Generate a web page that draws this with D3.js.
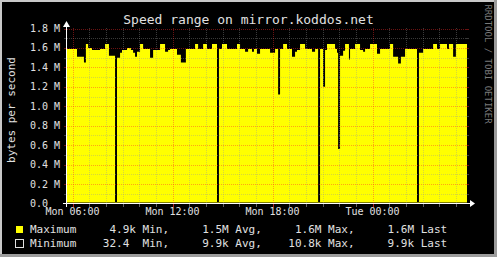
<!DOCTYPE html>
<html>
<head>
<meta charset="utf-8">
<script src="https://cdn.jsdelivr.net/npm/d3@7"></script>
<style>
  html, body { margin: 0; padding: 0; background: #000; }
  svg { display: block; }
  text { font-family: "DejaVu Sans Mono", monospace; fill: #e0e0e0; }
</style>
</head>
<body>
<div id="chart"></div>
<script>
// minutes after Mon 05:40, step values (bytes per second)
const maxMinutes = [0, 36, 61, 68, 76, 90, 119, 137, 151, 173, 180, 191, 198, 216, 230, 238, 245, 252, 263, 274,
  299, 310, 335, 353, 364, 371, 396, 410, 428, 461, 472, 490, 504, 522, 540, 547, 558, 576, 612, 623,
  641, 652, 666, 673, 684, 695, 731, 749, 760, 767, 778, 792, 810, 821, 828, 839, 857, 882, 893, 904,
  911, 922, 929, 936, 965, 972, 976, 983, 994, 1001, 1015, 1019, 1037, 1055, 1066, 1073, 1091, 1116, 1127, 1145,
  1163, 1174, 1192, 1202, 1217, 1260, 1267, 1282, 1318, 1332, 1343, 1368, 1375, 1390, 1400, 1440];
const maxValues = [1.59, 1.51, 1.45, 1.64, 1.60, 1.58, 1.59, 1.64, 1.52, 0.01, 1.50, 1.55, 1.58, 1.60, 1.58, 1.55, 1.51, 1.56, 1.64, 1.59,
  1.50, 1.58, 1.64, 1.56, 1.58, 1.59, 1.53, 1.45, 1.59, 1.64, 1.59, 1.64, 1.59, 1.64, 0.01, 1.59, 1.64, 1.59, 1.64, 1.59,
  1.56, 1.59, 1.56, 1.59, 1.54, 1.59, 1.55, 1.59, 1.12, 1.59, 1.64, 1.59, 1.51, 1.56, 1.58, 1.64, 1.59, 1.56, 1.59, 0.01,
  1.59, 1.20, 1.58, 1.64, 1.59, 1.55, 0.56, 1.52, 1.57, 1.64, 1.48, 1.59, 1.64, 1.58, 1.56, 1.59, 1.64, 1.54, 1.59, 1.59,
  1.64, 1.51, 1.44, 1.51, 1.59, 0.01, 1.55, 1.59, 1.64, 1.59, 1.64, 1.59, 1.64, 1.51, 1.64, 1.64].map(v => v * 1e6);

const minMinutes = [0, 173, 180, 540, 547, 904, 911, 1260, 1267, 1440];
const minValues = [10000, 0, 10200, 0, 9800, 0, 10500, 0, 9900, 9900];

const yTicks = [0, 0.2e6, 0.4e6, 0.6e6, 0.8e6, 1.0e6, 1.2e6, 1.4e6, 1.6e6, 1.8e6];
const xTickLabels = ['Mon 06:00', 'Mon 12:00', 'Mon 18:00', 'Tue 00:00'];
const legendRows = [
  {name: 'Maximum', text: 'Maximum     4.9k Min,     1.5M Avg,     1.6M Max,     1.6M Last'},
  {name: 'Minimum', text: 'Minimum    32.4  Min,     9.9k Avg,    10.8k Max,     9.9k Last'}
];

const W = 497, H = 257;
const start = new Date(2013, 0, 7, 5, 40);
const end = new Date(2013, 0, 8, 5, 40);
const toDate = m => new Date(start.getTime() + m * 60000);

const x = d3.scaleTime().domain([start, end]).range([67, 467]);
const y = d3.scaleLinear().domain([0, 1.8e6]).range([203.5, 28.5]);

const svg = d3.select('#chart').append('svg')
  .attr('width', W).attr('height', H);

// background + frame
svg.append('rect').attr('width', W).attr('height', H).attr('fill', '#000');
svg.append('rect').attr('x', 0).attr('y', 0).attr('width', W).attr('height', 2).attr('fill', '#c8c8c8');
svg.append('rect').attr('x', 0).attr('y', 0).attr('width', 2).attr('height', H).attr('fill', '#c8c8c8');
svg.append('rect').attr('x', 0).attr('y', H - 3).attr('width', W).attr('height', 3).attr('fill', '#9c9c9c');
svg.append('rect').attr('x', W - 3).attr('y', 0).attr('width', 3).attr('height', H).attr('fill', '#9c9c9c');

// title
svg.append('text').attr('x', 248.5).attr('y', 24).attr('text-anchor', 'middle')
  .style('font-size', '13px').text('Speed range on mirror.koddos.net');

// vertical label
svg.append('text').attr('transform', 'translate(15,110) rotate(-90)').attr('text-anchor', 'middle')
  .style('font-size', '11px').text('bytes per second');

// watermark
svg.append('text').attr('transform', 'translate(485,64) rotate(90)').attr('text-anchor', 'middle')
  .style('font-size', '9px').style('fill', '#7a7a7a').text('RRDTOOL / TOBI OETIKER');

// areas
const maxData = maxMinutes.map((m, i) => ({t: toDate(m), v: maxValues[i]}));
const minData = minMinutes.map((m, i) => ({t: toDate(m), v: minValues[i]}));

const area = d3.area().curve(d3.curveStepAfter)
  .x(d => x(d.t)).y0(y(0)).y1(d => y(d.v));

svg.append('path').datum(maxData).attr('fill', '#ffff00').attr('d', area);
svg.append('path').datum(minData).attr('fill', '#000000').attr('d', area);

// grid
const grid = svg.append('g');
const minorY = d3.range(1, 19).map(i => i * 0.1e6);
minorY.forEach(v => {
  const major = Math.round(v / 1e5) % 2 === 0;
  const col = major ? 'rgba(255,40,40,0.42)' : 'rgba(150,150,150,0.38)';
  grid.append('line').attr('x1', 67).attr('x2', 466).attr('y1', Math.round(y(v)) + 0.5).attr('y2', Math.round(y(v)) + 0.5)
    .attr('stroke', col).attr('stroke-dasharray', '1,1');
  grid.append('line').attr('x1', 64).attr('x2', 67).attr('y1', Math.round(y(v)) + 0.5).attr('y2', Math.round(y(v)) + 0.5)
    .attr('stroke', col);
  grid.append('line').attr('x1', 466).attr('x2', 469).attr('y1', Math.round(y(v)) + 0.5).attr('y2', Math.round(y(v)) + 0.5)
    .attr('stroke', col);
});
const hours = d3.timeHour.range(start, end);
hours.forEach(h => {
  const major = h.getHours() % 6 === 0;
  const col = major ? 'rgba(255,40,40,0.42)' : 'rgba(150,150,150,0.38)';
  const xp = Math.round(x(h)) + 0.5;
  grid.append('line').attr('x1', xp).attr('x2', xp).attr('y1', 28).attr('y2', 203)
    .attr('stroke', col).attr('stroke-dasharray', '1,1');
  grid.append('line').attr('x1', xp).attr('x2', xp).attr('y1', 203).attr('y2', 207)
    .attr('stroke', major ? '#b02020' : '#606060');
});

// axes
svg.append('line').attr('x1', 63).attr('x2', 470).attr('y1', 203.5).attr('y2', 203.5)
  .attr('stroke', '#ffffff');
svg.append('line').attr('x1', 66.5).attr('x2', 66.5).attr('y1', 207).attr('y2', 26)
  .attr('stroke', '#ffffff');
svg.append('path').attr('d', 'M470,200 L475,203.5 L470,207 Z').attr('fill', '#ffffff');
svg.append('path').attr('d', 'M63,27 L66.5,21 L70,27 Z').attr('fill', '#ffffff');

// y tick labels
const yFmt = v => v === 0 ? '0.0' : d3.format('.1f')(v / 1e6) + ' M';
svg.append('g').selectAll('text').data(yTicks).join('text')
  .attr('x', 30).attr('y', d => y(d) + 3.5)
  .style('font-size', '10px').text(yFmt);

// x tick labels
const xTicks = d3.timeHour.every(6).range(start, end);
svg.append('g').selectAll('text').data(xTicks).join('text')
  .attr('x', d => x(d)).attr('y', 215).attr('text-anchor', 'middle')
  .style('font-size', '10px').text((d, i) => xTickLabels[i]);

// legend
const lg = svg.append('g');
lg.append('rect').attr('x', 15.5).attr('y', 225.5).attr('width', 8).attr('height', 8)
  .attr('fill', '#ffff00').attr('stroke', '#000');
lg.append('rect').attr('x', 15.5).attr('y', 239.5).attr('width', 8).attr('height', 8)
  .attr('fill', '#000').attr('stroke', '#e0e0e0');
lg.selectAll('text.lg').data(legendRows).join('text')
  .attr('class', 'lg').attr('x', 30).attr('y', (d, i) => 233 + i * 14)
  .attr('xml:space', 'preserve').style('white-space', 'pre')
  .style('font-size', '11px').text(d => d.text);
</script>
</body>
</html>
